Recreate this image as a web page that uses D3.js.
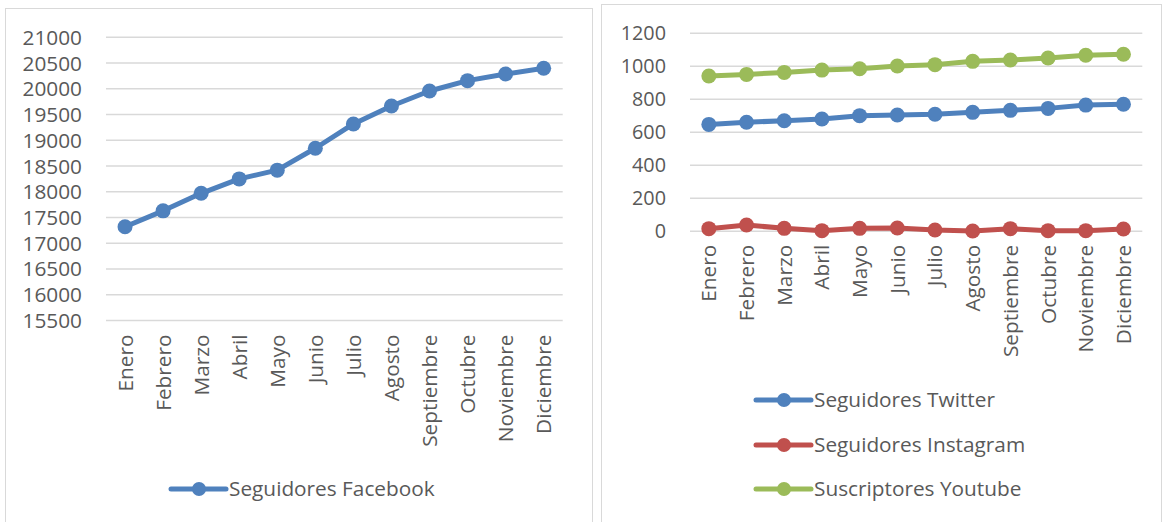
<!DOCTYPE html>
<html><head><meta charset="utf-8">
<script src="https://cdn.jsdelivr.net/npm/d3@7"></script>
<style>
html,body{margin:0;padding:0;background:#fff;}
svg text{font-family:"Open Sans",sans-serif;fill:#595959;}
</style></head>
<body><svg id="c" width="1163" height="522"></svg>
<script>
const months = ["Enero","Febrero","Marzo","Abril","Mayo","Junio","Julio","Agosto","Septiembre","Octubre","Noviembre","Diciembre"];
const facebook = [17320,17630,17970,18250,18420,18845,19317,19666,19957,20158,20287,20398];
const twitter = [648,661,670,681,701,705,709,721,733,745,765,770];
const instagram = [16,38,18,4,18,20,8,2,16,4,4,14];
const youtube = [941,951,963,977,985,1002,1010,1030,1038,1050,1067,1073];
const leftTicks = [15500,16000,16500,17000,17500,18000,18500,19000,19500,20000,20500,21000];
const rightTicks = [0,200,400,600,800,1000,1200];

const svg = d3.select("#c");

// frames
svg.append("rect").attr("x",5.5).attr("y",8.5).attr("width",587).attr("height",520).attr("fill","none").attr("stroke","#D9D9D9");
svg.append("rect").attr("x",601.5).attr("y",4.5).attr("width",560).attr("height",520).attr("fill","none").attr("stroke","#D9D9D9");

function chart(cfg){
  const g = svg.append("g");
  const x = d3.scaleBand().domain(months).range([cfg.x0,cfg.x1]);
  const y = d3.scaleLinear().domain(cfg.domain).range([cfg.yb,cfg.yt]);
  g.append("g").selectAll("line").data(cfg.ticks).join("line")
    .attr("x1",cfg.x0).attr("x2",cfg.x1).attr("y1",d=>y(d)).attr("y2",d=>y(d))
    .attr("stroke","#D9D9D9").attr("stroke-width",1.5);
  g.append("g").selectAll("text").data(cfg.ticks).join("text")
    .attr("x",cfg.x0-cfg.labelGap).attr("y",d=>y(d)).attr("dy","0.36em")
    .attr("text-anchor","end").attr("font-size",cfg.tickFS).text(d=>d);
  g.append("g").selectAll("text").data(months).join("text")
    .attr("transform",d=>`translate(${x(d)+x.bandwidth()/2},${cfg.yb+cfg.xlabGap}) rotate(-90)`)
    .attr("dy","0.36em").attr("text-anchor","end").attr("font-size",cfg.fs).text(d=>d);
  const line = d3.line().x((d,i)=>x(months[i])+x.bandwidth()/2).y(d=>y(d));
  cfg.series.forEach(s=>{
    g.append("path").attr("d",line(s.values)).attr("fill","none")
      .attr("stroke",s.color).attr("stroke-width",5).attr("stroke-linejoin","round").attr("stroke-linecap","round");
    g.append("g").selectAll("circle").data(s.values).join("circle")
      .attr("cx",(d,i)=>x(months[i])+x.bandwidth()/2).attr("cy",d=>y(d)).attr("r",7.5).attr("fill",s.color);
  });
  cfg.series.forEach((s,i)=>{
    const ly = cfg.legY[i];
    g.append("line").attr("x1",cfg.legX).attr("x2",cfg.legX+55).attr("y1",ly).attr("y2",ly)
      .attr("stroke",s.color).attr("stroke-width",5).attr("stroke-linecap","round");
    g.append("circle").attr("cx",cfg.legX+28).attr("cy",ly).attr("r",7).attr("fill",s.color);
    g.append("text").attr("x",cfg.legX+58).attr("y",ly).attr("dy","0.36em").attr("font-size",cfg.fs).text(s.name);
  });
}

chart({x0:106,x1:562.7,yb:320.5,yt:37.3,domain:[15500,21000],ticks:leftTicks,labelGap:24,xlabGap:14,fs:20.8,tickFS:20.8,
  series:[{name:"Seguidores Facebook",values:facebook,color:"#4F81BD"}],
  legX:171,legY:[489]});

chart({x0:690,x1:1142.3,yb:231.3,yt:33.3,domain:[0,1200],ticks:rightTicks,labelGap:24,xlabGap:13.5,fs:20.8,tickFS:19.8,
  series:[{name:"Seguidores Twitter",values:twitter,color:"#4F81BD"},
          {name:"Seguidores Instagram",values:instagram,color:"#C0504D"},
          {name:"Suscriptores Youtube",values:youtube,color:"#9BBB59"}],
  legX:756,legY:[400,445,489]});
</script></body></html>
